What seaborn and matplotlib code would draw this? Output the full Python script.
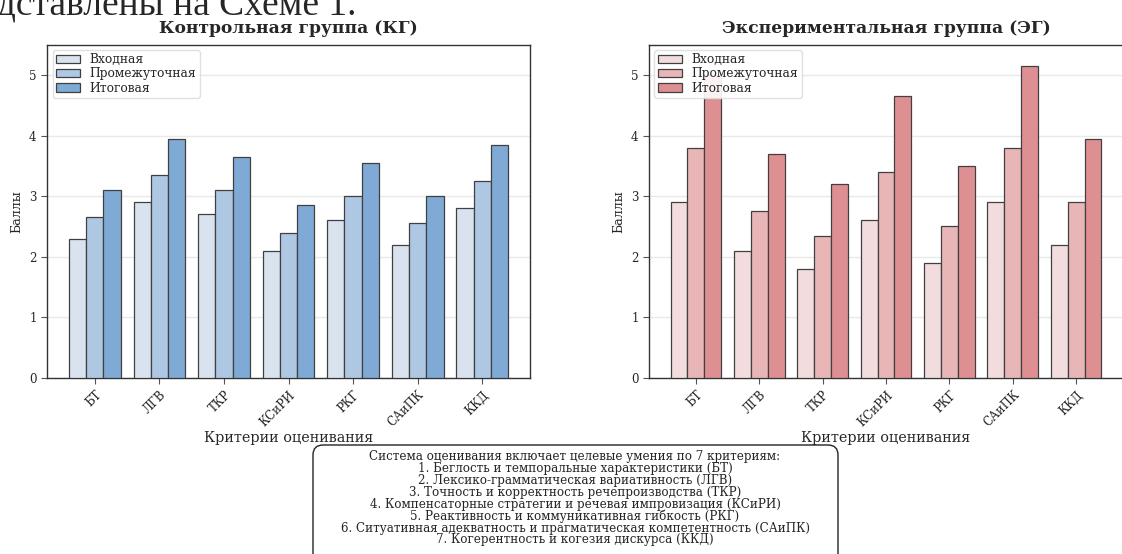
import matplotlib
matplotlib.use("Agg")
import matplotlib.pyplot as plt
from matplotlib.patches import FancyBboxPatch
import seaborn as sns
import pandas as pd

criteria = ["БТ", "ЛГВ", "ТКР", "КСиРИ", "РКГ", "САиПК", "ККД"]
stages = ["Входная", "Промежуточная", "Итоговая"]

kg_input = [2.3, 2.9, 2.7, 2.1, 2.6, 2.2, 2.8]
kg_mid = [2.65, 3.35, 3.1, 2.4, 3.0, 2.55, 3.25]
kg_final = [3.1, 3.95, 3.65, 2.85, 3.55, 3.0, 3.85]

eg_input = [2.9, 2.1, 1.8, 2.6, 1.9, 2.9, 2.2]
eg_mid = [3.8, 2.75, 2.35, 3.4, 2.5, 3.8, 2.9]
eg_final = [5.0, 3.7, 3.2, 4.65, 3.5, 5.15, 3.95]

kg_colors = ["#d9e3f0", "#aec8e4", "#80aad6"]
eg_colors = ["#f2dcdd", "#e9b6b7", "#dd8f92"]

titles = ["Контрольная группа (КГ)", "Экспериментальная группа (ЭГ)"]
xlabel = "Критерии оценивания"
ylabel = "Баллы"
note = ("Система оценивания включает целевые умения по 7 критериям:\n"
        "1. Беглость и темпоральные характеристики (БТ)\n"
        "2. Лексико-грамматическая вариативность (ЛГВ)\n"
        "3. Точность и корректность речепроизводства (ТКР)\n"
        "4. Компенсаторные стратегии и речевая импровизация (КСиРИ)\n"
        "5. Реактивность и коммуникативная гибкость (РКГ)\n"
        "6. Ситуативная адекватность и прагматическая компетентность (САиПК)\n"
        "7. Когерентность и когезия дискурса (ККД)")
doc_text = "представлены на Схеме 1."


def long_df(a, b, c):
    rows = []
    for vals, st in zip([a, b, c], stages):
        for cr, v in zip(criteria, vals):
            rows.append({"Критерий": cr, "Этап": st, "Балл": v})
    return pd.DataFrame(rows)


sns.set_style("white")
plt.rcParams["font.family"] = ["DejaVu Serif"]

fig = plt.figure(figsize=(11.22, 5.54), dpi=100)
ax1 = fig.add_axes([0.0419, 0.3177, 0.4305, 0.6018])
ax2 = fig.add_axes([0.5784, 0.3177, 0.4225, 0.6018])

for ax, df, cols, title in [(ax1, long_df(kg_input, kg_mid, kg_final), kg_colors, titles[0]),
                            (ax2, long_df(eg_input, eg_mid, eg_final), eg_colors, titles[1])]:
    sns.barplot(data=df, x="Критерий", y="Балл", hue="Этап", palette=cols,
                saturation=1, ax=ax, width=0.8, edgecolor="#404040",
                linewidth=0.9, errorbar=None, zorder=3)
    ax.set_xlim(-0.74, 6.74)
    ax.set_ylim(0, 5.5)
    ax.set_yticks([0, 1, 2, 3, 4, 5])
    ax.yaxis.grid(True, color="#e9e9e9", linewidth=1.0, zorder=0)
    ax.set_axisbelow(True)
    ax.set_title(title, fontsize=12.3, fontweight="bold", pad=8)
    ax.set_xlabel(xlabel, fontsize=10.4, labelpad=1)
    ax.set_ylabel(ylabel, fontsize=9)
    ax.tick_params(axis="both", labelsize=8.5, length=4, width=0.8,
                   color="#555555", direction="out", bottom=True, left=True)
    for lab in ax.get_xticklabels():
        lab.set_rotation(45)
        lab.set_ha("right")
        lab.set_rotation_mode("anchor")
    for s in ax.spines.values():
        s.set_color("#333333")
        s.set_linewidth(1.0)
    ax.legend(loc="upper left", fontsize=8.8, frameon=True, framealpha=0.9,
              edgecolor="#dddddd", labelspacing=0.1, handlelength=2.0,
              borderpad=0.25, borderaxespad=0.45)

# rounded note box (continues past the lower edge, as in the source)
box = FancyBboxPatch((3.13, -0.3), 5.25, 1.39,
                     boxstyle="round,pad=0,rounding_size=0.1",
                     transform=fig.dpi_scale_trans, facecolor="white",
                     edgecolor="#222222", linewidth=1.0, zorder=1)
fig.patches.append(box)

fig.text(0.5125, 0.1005, note, ha="center", va="center", fontsize=8.6,
         linespacing=0.88, zorder=2)

fig.text(0.318, 0.973, doc_text, ha="right", va="baseline",
         fontsize=27, family="Liberation Serif")

fig.savefig("out.png", dpi=100)
